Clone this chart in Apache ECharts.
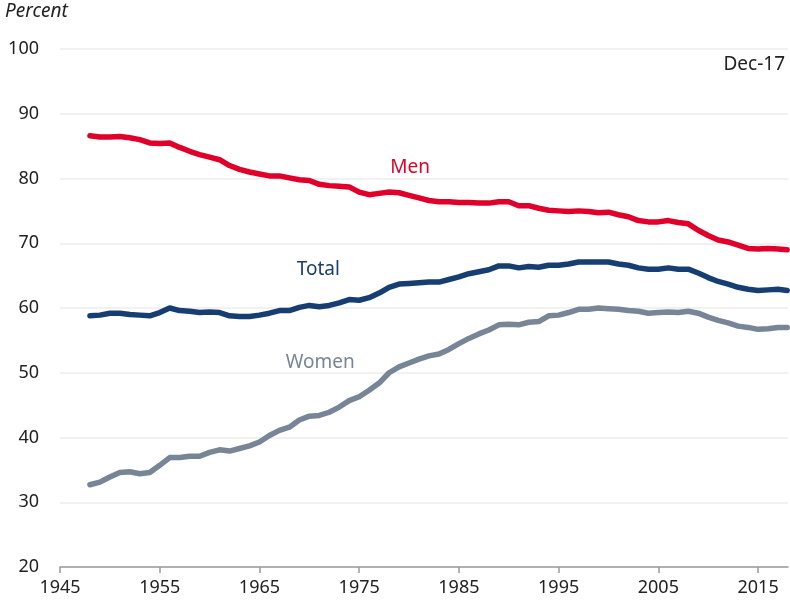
<!DOCTYPE html>
<html>
<head>
<meta charset="utf-8">
<script src="https://cdn.jsdelivr.net/npm/echarts@6/dist/echarts.min.js"></script>
<style>
  html, body { margin: 0; padding: 0; background: #fff; }
  #main { width: 790px; height: 604px; }
</style>
</head>
<body>
<div id="main"></div>
<script>
// years (annual points) plus the final Dec-17 month
var years = [];
for (var y = 1948; y <= 2017; y++) years.push(y);
var lastX = 2017.92;

var men = [86.6, 86.4, 86.4, 86.5, 86.3, 86.0, 85.5, 85.4, 85.5, 84.8,
  84.2, 83.7, 83.3, 82.9, 82.0, 81.4, 81.0, 80.7, 80.4, 80.4,
  80.1, 79.8, 79.7, 79.1, 78.9, 78.8, 78.7, 77.9, 77.5, 77.7,
  77.9, 77.8, 77.4, 77.0, 76.6, 76.4, 76.4, 76.3, 76.3, 76.2,
  76.2, 76.4, 76.4, 75.8, 75.8, 75.4, 75.1, 75.0, 74.9, 75.0,
  74.9, 74.7, 74.8, 74.4, 74.1, 73.5, 73.3, 73.3, 73.5, 73.2,
  73.0, 72.0, 71.2, 70.5, 70.2, 69.7, 69.2, 69.1, 69.2, 69.1];
var menLast = 69.0;

var total = [58.8, 58.9, 59.2, 59.2, 59.0, 58.9, 58.8, 59.3, 60.0, 59.6,
  59.5, 59.3, 59.4, 59.3, 58.8, 58.7, 58.7, 58.9, 59.2, 59.6,
  59.6, 60.1, 60.4, 60.2, 60.4, 60.8, 61.3, 61.2, 61.6, 62.3,
  63.2, 63.7, 63.8, 63.9, 64.0, 64.0, 64.4, 64.8, 65.3, 65.6,
  65.9, 66.5, 66.5, 66.2, 66.4, 66.3, 66.6, 66.6, 66.8, 67.1,
  67.1, 67.1, 67.1, 66.8, 66.6, 66.2, 66.0, 66.0, 66.2, 66.0,
  66.0, 65.4, 64.7, 64.1, 63.7, 63.2, 62.9, 62.7, 62.8, 62.9];
var totalLast = 62.7;

var women = [32.7, 33.1, 33.9, 34.6, 34.7, 34.4, 34.6, 35.7, 36.9, 36.9,
  37.1, 37.1, 37.7, 38.1, 37.9, 38.3, 38.7, 39.3, 40.3, 41.1,
  41.6, 42.7, 43.3, 43.4, 43.9, 44.7, 45.7, 46.3, 47.3, 48.4,
  50.0, 50.9, 51.5, 52.1, 52.6, 52.9, 53.6, 54.5, 55.3, 56.0,
  56.6, 57.4, 57.5, 57.4, 57.8, 57.9, 58.8, 58.9, 59.3, 59.8,
  59.8, 60.0, 59.9, 59.8, 59.6, 59.5, 59.2, 59.3, 59.4, 59.3,
  59.5, 59.2, 58.6, 58.1, 57.7, 57.2, 57.0, 56.7, 56.8, 57.0];
var womenLast = 57.0;

var xTicks = [1945, 1955, 1965, 1975, 1985, 1995, 2005, 2015];

function pairs(vals, last) {
  var out = years.map(function (yr, i) { return [yr, vals[i]]; });
  out.push([lastX, last]);
  return out;
}

var FONT = "Noto Sans";
var myChart = echarts.init(document.getElementById("main"));

// 每条线 + 线上的名字
function seriesOf(name, vals, last, color, labelAt) {
  return {
    name: name,
    type: "line",
    data: pairs(vals, last),
    showSymbol: false,
    lineStyle: { width: 5.5, color: color, cap: "round", join: "round" },
    markPoint: {
      symbol: "circle",
      symbolSize: 0,
      data: [{ coord: labelAt, value: name }],
      label: {
        show: true,
        formatter: name,
        color: color,
        fontFamily: FONT,
        fontSize: 19,
        position: "inside"
      }
    }
  };
}

var option = {
  animation: false,
  grid: { left: 60, right: 2, top: 49, bottom: 37 },
  xAxis: {
    type: "value",
    min: 1945,
    max: 2018,
    interval: 10,
    axisLine: { show: true, lineStyle: { color: "#9a9a9a", width: 1.5 } },
    axisTick: { show: true, length: 6, lineStyle: { color: "#9a9a9a", width: 1.5 },
      customValues: xTicks },
    axisLabel: { color: "#222", fontFamily: FONT, fontSize: 18, margin: 12,
      customValues: xTicks, formatter: function (v) { return String(v); } },
    splitLine: { show: false }
  },
  yAxis: {
    type: "value",
    min: 20,
    max: 100,
    interval: 10,
    axisLine: { show: false },
    axisTick: { show: false },
    axisLabel: { color: "#222", fontFamily: FONT, fontSize: 18, margin: 21 },
    splitLine: { lineStyle: { color: "#ececec", width: 1.5 } }
  },
  graphic: [
    { type: "text", left: 5, top: 2,
      style: { text: "Percent", fill: "#222", font: "italic 19px 'Noto Sans'" } },
    { type: "text", right: 5, top: 55,
      style: { text: "Dec-17", fill: "#222", font: "19px 'Noto Sans'" } }
  ],
  series: [
    seriesOf("Men", men, menLast, "#e0002a", [1980.1, 81.7]),
    seriesOf("Total", total, totalLast, "#173e72", [1970.9, 66.0]),
    seriesOf("Women", women, womenLast, "#788596", [1971.1, 51.5])
  ]
};
myChart.setOption(option);
</script>
</body>
</html>
